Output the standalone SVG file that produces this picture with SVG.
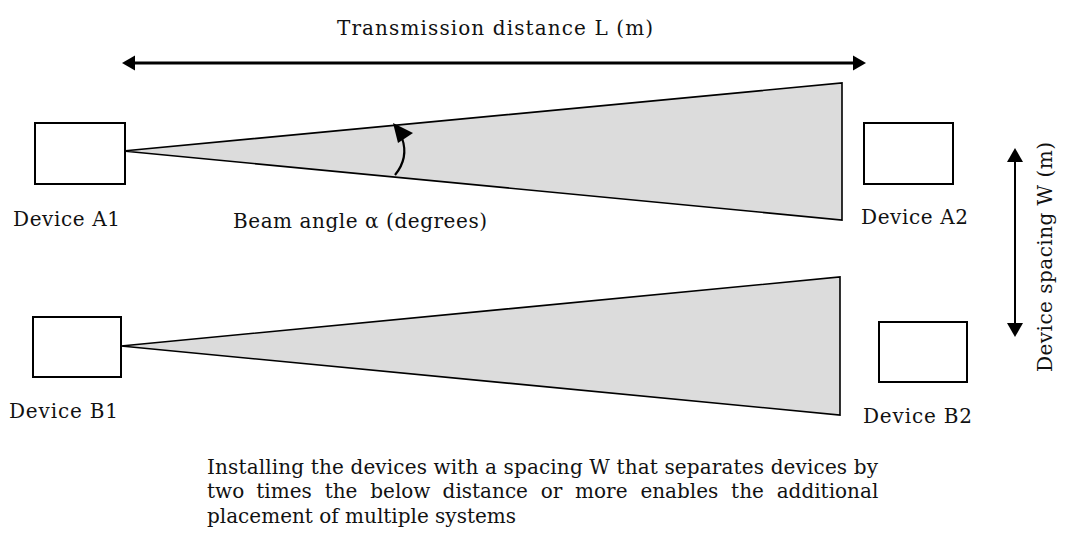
<svg xmlns="http://www.w3.org/2000/svg" width="1080" height="539" viewBox="0 0 1080 539">
<style>
text{font-family:"DejaVu Serif","Liberation Serif",serif;font-size:20px;fill:#111}
.box{fill:#fff;stroke:#000;stroke-width:2}
.beam{fill:#dcdcdc;stroke:#000;stroke-width:1.6;stroke-linejoin:miter}
.ln{stroke:#000;fill:none}
</style>
<rect width="1080" height="539" fill="#fff"/>
<g id="beamA"><polygon class="beam" points="123,151 842,83 842,220"/></g>
<g id="beamB"><polygon class="beam" points="121,346 840,277 840,415"/></g>
<g id="deviceA1"><rect class="box" x="35" y="123" width="90" height="61"/><text x="13" y="226" textLength="107" lengthAdjust="spacing">Device A1</text></g>
<g id="deviceA2"><rect class="box" x="864" y="123" width="89" height="61"/><text x="861" y="224" textLength="107" lengthAdjust="spacing">Device A2</text></g>
<g id="deviceB1"><rect class="box" x="33" y="317" width="88" height="60"/><text x="9" y="418" textLength="109" lengthAdjust="spacing">Device B1</text></g>
<g id="deviceB2"><rect class="box" x="879" y="322" width="88" height="60"/><text x="863" y="423" textLength="109" lengthAdjust="spacing">Device B2</text></g>
<g id="connectors">
<line class="ln" x1="132" y1="63" x2="856" y2="63" stroke-width="3"/>
<polygon points="122,63 135,55.5 135,70.5" fill="#000"/>
<polygon points="866,63 853,55.5 853,70.5" fill="#000"/>
<line class="ln" x1="1015" y1="160" x2="1015" y2="325" stroke-width="2"/>
<polygon points="1015,148 1007,162 1023,162" fill="#000"/>
<polygon points="1015,337 1007,323 1023,323" fill="#000"/>
<path class="ln" d="M395,175 Q409,158 402,138" stroke-width="2.2"/>
<polygon points="393,123 413,133 398,143" fill="#000"/>
</g>
<g id="labels">
<text x="337" y="35" textLength="316" lengthAdjust="spacing">Transmission distance L (m)</text>
<text x="233" y="228" textLength="254" lengthAdjust="spacing">Beam angle α (degrees)</text>
<text transform="translate(1052,372) rotate(-90)" x="0" y="0" textLength="230" lengthAdjust="spacing">Device spacing W (m)</text>
<text x="207" y="474" textLength="671" lengthAdjust="spacing">Installing the devices with a spacing W that separates devices by</text>
<text y="498"><tspan x="207">two</tspan><tspan x="256.3">times</tspan><tspan x="324.7">the</tspan><tspan x="370.3">below</tspan><tspan x="442.6">distance</tspan><tspan x="540.7">or</tspan><tspan x="575.1">more</tspan><tspan x="640.4">enables</tspan><tspan x="731.1">the</tspan><tspan x="776.7">additional</tspan></text>
<text x="207" y="523">placement of multiple systems</text>
</g>
</svg>
